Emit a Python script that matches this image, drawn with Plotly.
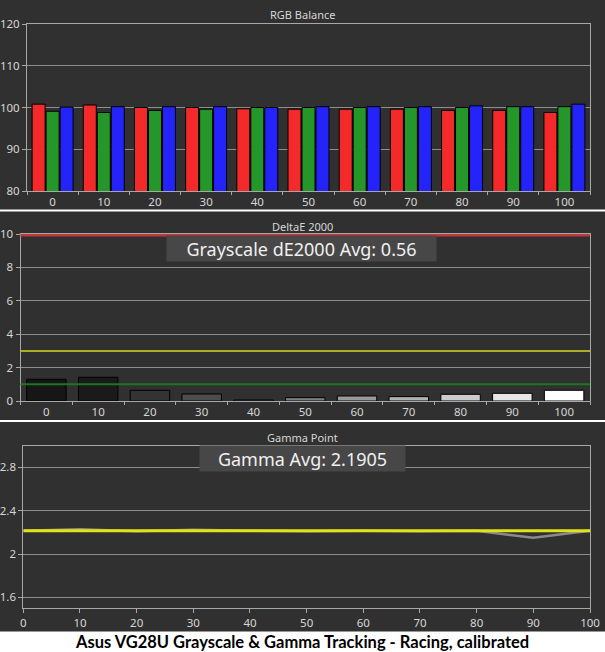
import plotly.graph_objects as go

# ---------------- data ----------------
levels = ["0", "10", "20", "30", "40", "50", "60", "70", "80", "90", "100"]
red_vals = [100.8, 100.6, 100.0, 100.0, 99.7, 99.6, 99.6, 99.6, 99.3, 99.3, 98.8]
green_vals = [99.1, 98.8, 99.3, 99.6, 100.0, 100.0, 100.0, 100.0, 100.0, 100.2, 100.2]
blue_vals = [100.1, 100.2, 100.2, 100.2, 100.0, 100.2, 100.2, 100.2, 100.4, 100.2, 100.8]

de_vals = [1.30, 1.42, 0.64, 0.42, 0.06, 0.20, 0.30, 0.26, 0.40, 0.46, 0.64]
de_avg_text = "0.56"
de_limit_red = 10
de_limit_yellow = 3
de_limit_green = 1

gamma_x = [0, 10, 20, 30, 40, 50, 60, 70, 80, 90, 100]
gamma_measured = [2.215, 2.23, 2.21, 2.225, 2.215, 2.21, 2.215, 2.21, 2.215, 2.15, 2.215]
gamma_target = [2.215, 2.215, 2.215, 2.215, 2.215, 2.215, 2.215, 2.215, 2.215, 2.215, 2.215]
gamma_avg_text = "2.1905"

caption = "Asus VG28U Grayscale & Gamma Tracking - Racing, calibrated"

# ---------------- styling ----------------
W, H = 605, 652
PANEL_BG = "#303030"
PLOT_BG = "#222222"
LINE_C = "#a8a8a8"
GRID_C = "#8e8e8e"
TXT_C = "#d6d6d6"
FONT = "Noto Sans"


def px_x(p):
    return p / W


def px_y(p):
    return 1 - p / H


def gray_for(level):
    v = int(round(255 * int(level) / 100))
    v = max(v, 22)
    return f"rgb({v},{v},{v})"


fig = go.Figure()

# RGB balance bars
for vals, col, name in [(red_vals, "#f42a2a", "Red"),
                        (green_vals, "#24962a", "Green"),
                        (blue_vals, "#2424fa", "Blue")]:
    fig.add_trace(go.Bar(x=levels, y=vals, name=name, marker=dict(color=col, line=dict(color="#000000", width=1)),
                         xaxis="x", yaxis="y", showlegend=False))

# DeltaE bars
fig.add_trace(go.Bar(x=levels, y=de_vals, marker=dict(color=[gray_for(l) for l in levels],
                                                       line=dict(color="#000000", width=1)),
                     xaxis="x2", yaxis="y2", showlegend=False))

# Gamma lines
fig.add_trace(go.Scatter(x=gamma_x, y=gamma_measured, mode="lines", line=dict(color="#8a8a8a", width=2.5),
                         xaxis="x3", yaxis="y3", showlegend=False))
fig.add_trace(go.Scatter(x=gamma_x, y=gamma_target, mode="lines", line=dict(color="#e2e21a", width=3),
                         xaxis="x3", yaxis="y3", showlegend=False))

axis_common = dict(showline=True, linecolor=LINE_C, linewidth=1, mirror=True, showgrid=True, gridcolor=GRID_C,
                   gridwidth=1, zeroline=False, ticks="outside", tickcolor=LINE_C, ticklen=4, automargin=False,
                   tickfont=dict(family=FONT, size=11.5, color=TXT_C))
xcat = dict(axis_common, showgrid=False, type="category", tickson="boundaries", ticklen=3)

fig.update_layout(
    width=W, height=H, margin=dict(l=0, r=0, t=0, b=0, pad=0), autosize=False, showlegend=False,
    paper_bgcolor="#ffffff", plot_bgcolor=PLOT_BG,
    barmode="group", bargap=0.18, bargroupgap=0.07,
    xaxis=dict(xcat, domain=[px_x(27), px_x(590)], anchor="y"),
    yaxis=dict(axis_common, domain=[px_y(191), px_y(24)], range=[80, 120], dtick=10, anchor="x"),
    xaxis2=dict(xcat, domain=[px_x(20.5), px_x(590)], anchor="y2"),
    yaxis2=dict(axis_common, domain=[px_y(401), px_y(234)], range=[0, 10], dtick=2, anchor="x2"),
    xaxis3=dict(axis_common, showgrid=False, domain=[px_x(23.3), px_x(590)], range=[0, 100], dtick=10, anchor="y3"),
    yaxis3=dict(axis_common, domain=[px_y(608.3), px_y(445.7)], range=[1.5, 3.0], tick0=0, dtick=0.4, anchor="x3"),
)

# panel backgrounds
shapes = []
for top, bot in [(0, 209.5), (211.5, 420), (422, 631.5)]:
    shapes.append(dict(type="rect", xref="paper", yref="paper", x0=0, x1=1, y0=px_y(bot), y1=px_y(top),
                       fillcolor=PANEL_BG, line=dict(width=0), layer="below"))
# deltaE reference lines
shapes.append(dict(type="line", xref="x2 domain", yref="y2", x0=0, x1=1, y0=de_limit_green, y1=de_limit_green,
                   line=dict(color="#1f741f", width=2)))
shapes.append(dict(type="line", xref="x2 domain", yref="y2", x0=0, x1=1, y0=de_limit_yellow, y1=de_limit_yellow,
                   line=dict(color="#d8d820", width=1.5)))
shapes.append(dict(type="line", xref="x2 domain", yref="y2", x0=0, x1=1, y0=de_limit_red, y1=de_limit_red,
                   line=dict(color="#c03838", width=5)))
fig.update_layout(shapes=shapes)

ann = []
for text, yc in [("RGB Balance", 15), ("DeltaE 2000", 226), ("Gamma Point", 437)]:
    ann.append(dict(text=text, xref="paper", yref="paper", x=px_x(302), y=px_y(yc), showarrow=False,
                    xanchor="center", yanchor="middle", font=dict(family=FONT, size=11, color=TXT_C)))
ann.append(dict(text="Grayscale dE2000 Avg: " + de_avg_text, xref="paper", yref="paper", x=px_x(301.5), y=px_y(248.5),
                showarrow=False, xanchor="center", yanchor="middle", width=269, height=25, borderpad=0,
                bgcolor="#474747", font=dict(family=FONT, size=18, color="#f0f0f0")))
ann.append(dict(text="Gamma Avg: " + gamma_avg_text, xref="paper", yref="paper", x=px_x(302.5), y=px_y(458.3),
                showarrow=False, xanchor="center", yanchor="middle", width=205, height=25, borderpad=0,
                bgcolor="#474747", font=dict(family=FONT, size=18, color="#f0f0f0")))
ann.append(dict(text="<b>" + caption.replace("&", "&amp;") + "</b>", xref="paper", yref="paper", x=px_x(302), y=px_y(641.5),
                showarrow=False, xanchor="center", yanchor="middle", font=dict(family="Lato", size=16.5, color="#000000")))
fig.update_layout(annotations=ann)

fig.write_html("out.html", config={"displayModeBar": False},
               post_script="document.body.style.margin='0px';document.body.style.padding='0px';"
                           "document.body.style.overflow='hidden';")
